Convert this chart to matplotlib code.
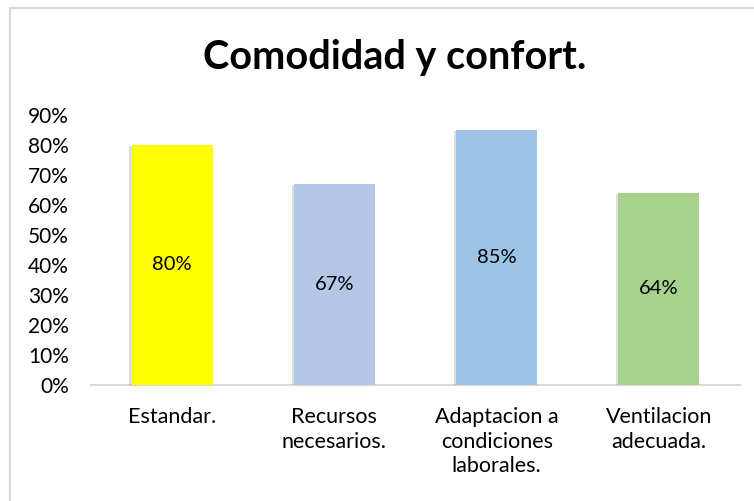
import matplotlib
matplotlib.use("Agg")
import matplotlib.pyplot as plt
import matplotlib.patheffects as pe
from matplotlib.lines import Line2D
from matplotlib.ticker import PercentFormatter

categories = ["Estandar.", "Recursos\nnecesarios.", "Adaptacion a\ncondiciones\nlaborales.", "Ventilacion\nadecuada."]
values = [0.80, 0.67, 0.85, 0.64]
value_labels = ["80%", "67%", "85%", "64%"]
colors = ["#FFFF00", "#B4C7E7", "#9DC3E6", "#A9D18E"]
yticks = [0.0, 0.1, 0.2, 0.3, 0.4, 0.5, 0.6, 0.7, 0.8, 0.9]

plt.rcParams['font.family'] = ['Lato', 'DejaVu Sans']

fig = plt.figure(figsize=(7.54, 5.01), dpi=100)
W, H = 754, 501
ax = fig.add_axes([91 / W, 1 - 385 / H, (740 - 91) / W, (385 - 115) / H])

x = range(len(categories))
bars = ax.bar(x, values, width=0.5, color=colors, zorder=3)
for b in bars:
    b.set_path_effects([pe.SimplePatchShadow(offset=(-1.5, -1.0), shadow_rgbFace='#909090', alpha=0.3), pe.Normal()])

for xi, v, lab in zip(x, values, value_labels):
    ax.text(xi, v / 2, lab, ha='center', va='center', fontsize=14.5, color='#000000', zorder=4)

ax.set_xlim(-0.5, len(categories) - 0.5)
ax.set_ylim(0, 0.9)
ax.set_yticks(yticks)
ax.yaxis.set_major_formatter(PercentFormatter(1.0, decimals=0))
ax.set_xticks(list(x))
ax.set_xticklabels(categories, fontsize=15.5, linespacing=1.28, va='top')
ax.tick_params(axis='both', length=0, colors='#000000')
ax.tick_params(axis='y', labelsize=15, pad=16)
ax.tick_params(axis='x', pad=16)

for s in ['top', 'right', 'left']:
    ax.spines[s].set_visible(False)
ax.spines['bottom'].set_color('#D9D9D9')
ax.spines['bottom'].set_linewidth(1.5)

fig.text(395 / W, 1 - 58 / H, "Comodidad y confort.", ha='center', va='center',
         fontsize=28.5, fontweight='bold', color='#000000')

# outer chart border (partially visible)
fig.add_artist(Line2D([10 / W, 10 / W], [0, 1 - 8 / H], transform=fig.transFigure, color='#D9D9D9', lw=1.5))
fig.add_artist(Line2D([10 / W, 1.0], [1 - 8 / H, 1 - 8 / H], transform=fig.transFigure, color='#D9D9D9', lw=1.5))

fig.savefig("out.png", dpi=100)
